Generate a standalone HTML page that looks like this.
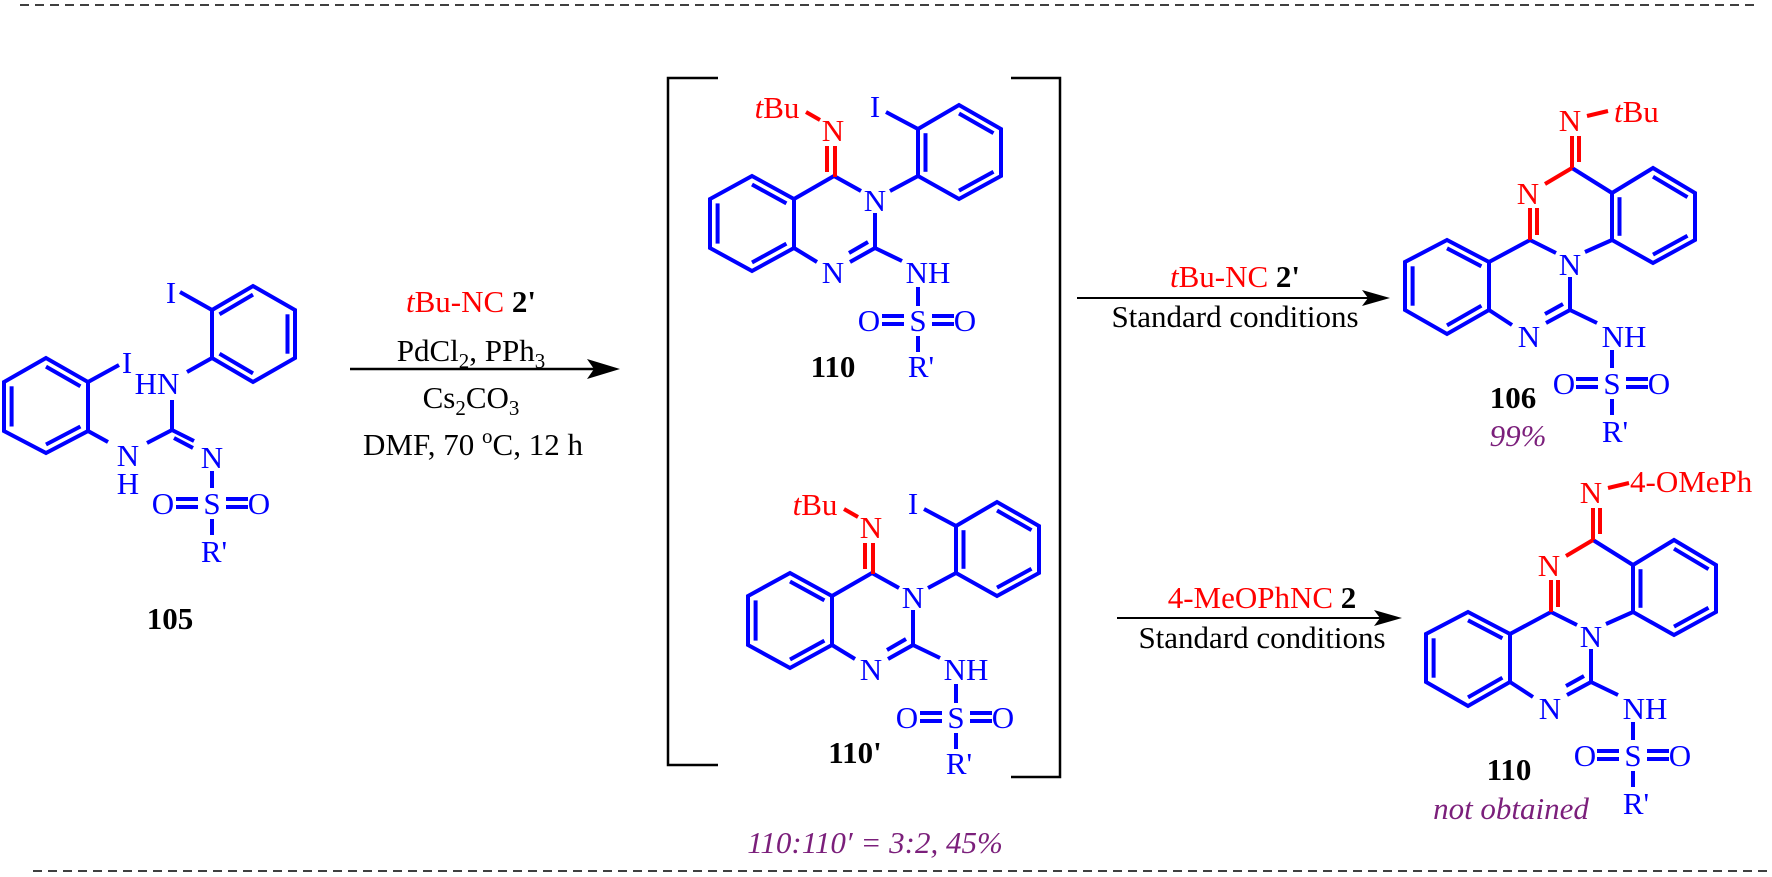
<!DOCTYPE html>
<html><head><meta charset="utf-8"><style>
html,body{margin:0;padding:0;background:#fff;}
svg{display:block;}
text{font-family:"Liberation Serif",serif;font-size:31px;}
.b{stroke:#0000ff;stroke-width:4;fill:none;stroke-linecap:butt;stroke-linejoin:miter;}
.r{stroke:#ff0000;stroke-width:4;fill:none;}
.bl{fill:#0000ff;text-anchor:middle;}
.rl{fill:#ff0000;text-anchor:middle;}
.k{fill:#000;text-anchor:middle;}
.p{fill:#7b1f7b;text-anchor:middle;font-style:italic;}
.bold{font-weight:bold;}
</style></head><body>
<svg width="1772" height="877" viewBox="0 0 1772 877" xmlns="http://www.w3.org/2000/svg">
<line x1="20" y1="5" x2="1755" y2="5" stroke="#000" stroke-width="1.5" stroke-dasharray="9,6"/>
<line x1="33" y1="871" x2="1772" y2="871" stroke="#000" stroke-width="1.5" stroke-dasharray="9,6"/>

<!-- 105 -->
<g class="b">
<polygon points="46,358 4,382 4,431 46,453 88,431 88,382"/>
<line x1="46" y1="366.6" x2="80.4" y2="386.3"/><line x1="11.6" y1="386.3" x2="11.6" y2="426.5"/><line x1="46" y1="444.5" x2="80.4" y2="426.5"/>
<line x1="88" y1="382" x2="119" y2="365"/>
<polygon points="212,310 253,286 295,310 295,358 253,382 212,358"/>
<line x1="219.5" y1="314.3" x2="253" y2="294.6"/><line x1="287.5" y1="314.3" x2="287.5" y2="353.7"/><line x1="253" y1="373.4" x2="219.5" y2="353.7"/>
<line x1="180" y1="292" x2="212" y2="310"/>
<line x1="187" y1="372" x2="212" y2="358"/>
<line x1="172" y1="400" x2="172" y2="430"/>
<line x1="172" y1="430" x2="147" y2="443"/>
<line x1="88" y1="431" x2="108" y2="442"/>
<line x1="172" y1="430" x2="194" y2="441"/><line x1="174" y1="438" x2="193" y2="448"/>
<line x1="212" y1="471" x2="212" y2="488"/>
<line x1="176" y1="499" x2="198" y2="499"/><line x1="176" y1="507" x2="198" y2="507"/>
<line x1="226" y1="499" x2="248" y2="499"/><line x1="226" y1="507" x2="248" y2="507"/>
<line x1="212" y1="519" x2="212" y2="535"/>
</g>
<text class="bl" x="127" y="373">I</text>
<text class="bl" x="157" y="394">HN</text>
<text class="bl" x="171" y="303">I</text>
<text class="bl" x="128" y="466">N</text>
<text class="bl" x="128" y="494">H</text>
<text class="bl" x="212" y="468">N</text>
<text class="bl" x="163" y="514">O</text><text class="bl" x="212" y="514">S</text><text class="bl" x="259" y="514">O</text>
<text class="bl" x="214" y="562">R'</text>
<text class="k bold" x="170" y="629">105</text>

<!-- arrow 1 -->
<line x1="350" y1="369" x2="600" y2="369" stroke="#000" stroke-width="2.5"/>
<path d="M620,369 L587,359 L594,369 L587,379 Z" fill="#000"/>
<text class="k" x="471" y="312"><tspan fill="#ff0000"><tspan font-style="italic">t</tspan>Bu-NC</tspan> <tspan font-weight="bold">2'</tspan></text>
<text class="k" x="471" y="361">PdCl<tspan font-size="21" dy="7">2</tspan><tspan dy="-7">, PPh</tspan><tspan font-size="21" dy="7">3</tspan></text>
<text class="k" x="471" y="408">Cs<tspan font-size="21" dy="7">2</tspan><tspan dy="-7">CO</tspan><tspan font-size="21" dy="7">3</tspan></text>
<text class="k" x="473" y="455">DMF, 70 <tspan font-size="21" dy="-12">o</tspan><tspan dy="12">C, 12 h</tspan></text>

<!-- brackets -->
<polyline points="718,78 668,78 668,765 718,765" fill="none" stroke="#000" stroke-width="2.5"/>
<polyline points="1011,78 1060,78 1060,777 1011,777" fill="none" stroke="#000" stroke-width="2.5"/>

<!-- 110 intermediate -->
<g id="m110">
<g class="b">
<polygon points="752,176 710,199 710,248 752,271 794,248 794,199"/>
<line x1="752" y1="184.5" x2="786.4" y2="203.4"/><line x1="717.6" y1="203.4" x2="717.6" y2="243.6"/><line x1="752" y1="262.5" x2="786.4" y2="243.6"/>
<line x1="794" y1="199" x2="834" y2="176"/>
<line x1="834" y1="176" x2="861" y2="191"/>
<line x1="875" y1="213" x2="875" y2="248"/>
<line x1="875" y1="248" x2="850" y2="262"/><line x1="868" y1="242" x2="849" y2="253"/>
<line x1="817" y1="262" x2="794" y2="248"/>
<line x1="890" y1="191" x2="918" y2="176"/>
<polygon points="918,129 959,105 1001,129 1001,176 959,199 918,176"/>
<line x1="925.5" y1="133.2" x2="925.5" y2="171.8"/><line x1="959" y1="113.5" x2="993.5" y2="133.2"/><line x1="993.5" y1="171.8" x2="959" y2="190.6"/>
<line x1="886" y1="112" x2="918" y2="129"/>
<line x1="875" y1="248" x2="902" y2="261"/>
<line x1="918" y1="287" x2="918" y2="306"/>
<line x1="882" y1="316" x2="904" y2="316"/><line x1="882" y1="324" x2="904" y2="324"/>
<line x1="932" y1="316" x2="954" y2="316"/><line x1="932" y1="324" x2="954" y2="324"/>
<line x1="918" y1="336" x2="918" y2="352"/>
</g>
<g class="r">
<line x1="835" y1="177" x2="835" y2="146"/><line x1="827" y1="172" x2="827" y2="146"/>
<line x1="806" y1="112" x2="820" y2="120"/>
</g>
<text class="rl" x="777" y="118"><tspan font-style="italic">t</tspan>Bu</text>
<text class="rl" x="833" y="141">N</text>
<text class="bl" x="875" y="211">N</text>
<text class="bl" x="833" y="283">N</text>
<text class="bl" x="875" y="117">I</text>
<text class="bl" x="928" y="283">NH</text>
<text class="bl" x="869" y="331">O</text><text class="bl" x="918" y="331">S</text><text class="bl" x="965" y="331">O</text>
<text class="bl" x="921" y="377">R'</text>
</g>
<use href="#m110" transform="translate(38,397)"/>
<text class="k bold" x="833" y="377">110</text>
<text class="k bold" x="855" y="763">110'</text>
<text class="p" x="875" y="853">110:110′ = 3:2, 45%</text>

<!-- arrow 2 -->
<line x1="1077" y1="298" x2="1375" y2="298" stroke="#000" stroke-width="2"/>
<path d="M1390,298 L1362,290 L1368,298 L1362,306 Z" fill="#000"/>
<text class="k" x="1235" y="287"><tspan fill="#ff0000"><tspan font-style="italic">t</tspan>Bu-NC</tspan> <tspan font-weight="bold">2'</tspan></text>
<text class="k" x="1235" y="327">Standard conditions</text>

<!-- arrow 3 -->
<line x1="1117" y1="618" x2="1387" y2="618" stroke="#000" stroke-width="2"/>
<path d="M1402,618 L1374,610 L1380,618 L1374,626 Z" fill="#000"/>
<text class="k" x="1262" y="608"><tspan fill="#ff0000">4-MeOPhNC</tspan> <tspan font-weight="bold">2</tspan></text>
<text class="k" x="1262" y="648">Standard conditions</text>

<!-- 106 -->
<g id="m106">
<g class="b">
<polygon points="1447,240 1405,262 1405,310 1447,334 1489,310 1489,262"/>
<line x1="1447" y1="248.3" x2="1481.4" y2="266.3"/><line x1="1412.6" y1="266.3" x2="1412.6" y2="305.7"/><line x1="1447" y1="325.4" x2="1481.4" y2="305.7"/>
<line x1="1489" y1="262" x2="1530" y2="240"/>
<line x1="1530" y1="240" x2="1556" y2="253"/>
<line x1="1570" y1="277" x2="1570" y2="310"/>
<line x1="1570" y1="310" x2="1546" y2="323"/><line x1="1563" y1="304" x2="1545" y2="314"/>
<line x1="1512" y1="325" x2="1489" y2="310"/>
<line x1="1570" y1="310" x2="1597" y2="323"/>
<line x1="1585" y1="252" x2="1612" y2="240"/>
<line x1="1572" y1="168" x2="1612" y2="193"/>
<polygon points="1612,193 1653,168 1695,193 1695,240 1653,263 1612,240"/>
<line x1="1619.5" y1="197.2" x2="1619.5" y2="235.8"/><line x1="1653" y1="176.7" x2="1687.5" y2="197.2"/><line x1="1687.5" y1="235.8" x2="1653" y2="254.6"/>
<line x1="1612" y1="350" x2="1612" y2="368"/>
<line x1="1576" y1="379" x2="1598" y2="379"/><line x1="1576" y1="387" x2="1598" y2="387"/>
<line x1="1626" y1="379" x2="1648" y2="379"/><line x1="1626" y1="387" x2="1648" y2="387"/>
<line x1="1612" y1="399" x2="1612" y2="415"/>
</g>
<g class="r">
<line x1="1530" y1="240" x2="1530" y2="208"/><line x1="1537" y1="235" x2="1537" y2="208"/>
<line x1="1545" y1="184" x2="1572" y2="168"/>
<line x1="1572" y1="168" x2="1572" y2="136"/><line x1="1579" y1="162" x2="1579" y2="136"/>
<line x1="1587" y1="116" x2="1608" y2="111"/>
</g>
<text class="rl" x="1528" y="204">N</text>
<text class="bl" x="1570" y="275">N</text>
<text class="bl" x="1529" y="347">N</text>
<text class="rl" x="1570" y="131">N</text>
<text class="bl" x="1624" y="347">NH</text>
<text class="bl" x="1564" y="394">O</text><text class="bl" x="1612" y="394">S</text><text class="bl" x="1659" y="394">O</text>
<text class="bl" x="1615" y="442">R'</text>
</g>
<text x="1614" y="122" fill="#ff0000"><tspan font-style="italic">t</tspan>Bu</text>
<text class="k bold" x="1513" y="408">106</text>
<text class="p" x="1518" y="446">99%</text>

<use href="#m106" transform="translate(21,372)"/>
<text x="1630" y="492" fill="#ff0000">4-OMePh</text>
<text class="k bold" x="1509" y="780">110</text>
<text class="p" x="1511" y="819">not obtained</text>
</svg>
</body></html>
